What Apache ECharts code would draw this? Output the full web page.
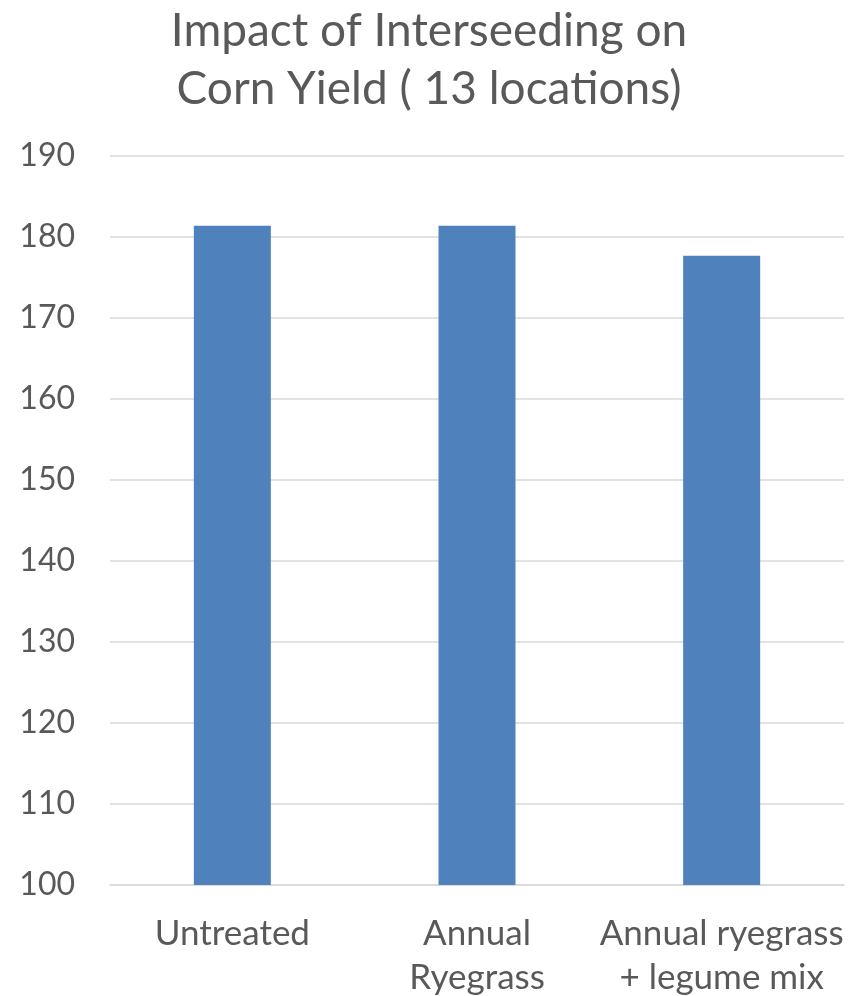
<!DOCTYPE html>
<html>
<head>
<meta charset="utf-8">
<script src="https://cdn.jsdelivr.net/npm/echarts@6/dist/echarts.min.js"></script>
<style>
html,body{margin:0;padding:0;background:#fff;overflow:hidden;}
#chart{width:858px;height:996px;}
</style>
</head>
<body>
<div id="chart"></div>
<script>
const titleText = "Impact of Interseeding on\nCorn Yield ( 13 locations)";
const categories = ["Untreated", "Annual\nRyegrass", "Annual ryegrass\n+ legume mix"];
const yieldValues = [181.4, 181.4, 177.7];
const yMin = 100, yMax = 190, yStep = 10;

const chart = echarts.init(document.getElementById('chart'), null, {renderer: 'canvas'});
const font = 'Lato, "Open Sans", sans-serif';
chart.setOption({
  animation: false,
  backgroundColor: '#ffffff',
  title: {
    text: titleText,
    left: 'center',
    top: -3,
    textStyle: {
      fontFamily: font,
      fontSize: 46,
      fontWeight: 'normal',
      color: '#595959',
      lineHeight: 58
    }
  },
  grid: {left: 110, right: 14, top: 156, bottom: 111, containLabel: false, outerBoundsMode: 'none'},
  xAxis: {
    type: 'category',
    data: categories,
    axisLine: {show: true, lineStyle: {color: '#d9d9d9', width: 1.5}},
    axisTick: {show: false},
    axisLabel: {
      fontFamily: font,
      fontSize: 35,
      color: '#595959',
      margin: 27,
      lineHeight: 44,
      interval: 0
    }
  },
  yAxis: {
    type: 'value',
    min: yMin,
    max: yMax,
    interval: yStep,
    axisLine: {show: false},
    axisTick: {show: false},
    splitLine: {lineStyle: {color: '#d9d9d9', width: 1.5}},
    axisLabel: {
      fontFamily: font,
      fontSize: 32,
      color: '#595959',
      margin: 35,
      align: 'right'
    }
  },
  series: [{
    type: 'bar',
    data: yieldValues,
    barWidth: 77,
    itemStyle: {color: '#4F81BD'}
  }]
});
</script>
</body>
</html>
